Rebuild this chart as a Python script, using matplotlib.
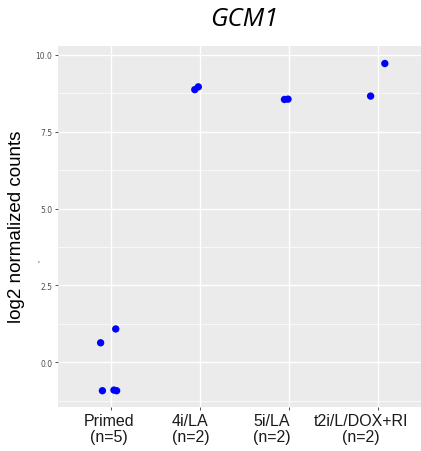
import numpy as np
import matplotlib.pyplot as plt

# group labels and per-sample values
groups = ["Primed\n(n=5)", "4i/LA\n(n=2)", "5i/LA\n(n=2)", "t2i/L/DOX+RI\n(n=2)"]
label_pos = [0.97, 1.89, 2.81, 3.81]
xpos = [0.88, 1.05, 0.90, 1.03, 1.06,
        1.94, 1.98,
        2.95, 2.99,
        3.92, 4.08]
counts = [0.63, 1.08, -0.93, -0.91, -0.93,
          8.87, 8.96,
          8.55, 8.56,
          8.66, 9.72]

fig = plt.figure(figsize=(4.21, 4.52), dpi=100)
ax = fig.add_axes([58 / 421, 44 / 452, 373 / 421, 361 / 452])
ax.set_facecolor("#ebebeb")

ax.set_xlim(0.4, 4.6)
ax.set_ylim(-1.46, 10.29)

# ggplot-like grid
for y in [-1.25, 1.25, 3.75, 6.25, 8.75]:
    ax.axhline(y, color="white", lw=0.5, zorder=0)
for y in [0, 2.5, 5, 7.5, 10]:
    ax.axhline(y, color="white", lw=1.0, zorder=0)
for x in range(1, 5):
    ax.axvline(x, color="white", lw=1.0, zorder=0)

ax.scatter(xpos, counts, s=28, color="blue", edgecolors="none", zorder=3)

# tick marks on the categories, labels (slightly shifted in the original) as minor ticks
ax.set_xticks(range(1, 5))
ax.set_xticklabels([])
ax.set_xticks(label_pos, minor=True)
ax.set_xticklabels(groups, minor=True, fontsize=11.5, color="#1a1a1a",
                   family="Liberation Sans", linespacing=1.05)
ax.tick_params(axis="x", which="minor", length=0, pad=4.5)

ax.set_yticks([0, 2.5, 5, 7.5, 10])
ax.set_yticklabels(["0.0", "2.5", "5.0", "7.5", "10.0"], fontsize=5.5, color="#4d4d4d")
ax.tick_params(axis="both", which="major", length=2.5, width=0.6, color="#333333")
ax.tick_params(axis="y", pad=1.5)

for s in ax.spines.values():
    s.set_visible(False)

fig.text(17 / 421, 1 - 227 / 452, "log2 normalized counts", fontsize=13.5,
         family="Liberation Sans", rotation=90, ha="center", va="center")
fig.text(38 / 421, 1 - 263 / 452, "'", fontsize=5, color="#1f3a68",
         ha="center", va="center")

fig.text(244 / 421, 1 - 19 / 452, "GCM1", fontsize=18.5, style="italic",
         family="Open Sans", ha="center", va="center")

fig.savefig("out.png", dpi=100)
